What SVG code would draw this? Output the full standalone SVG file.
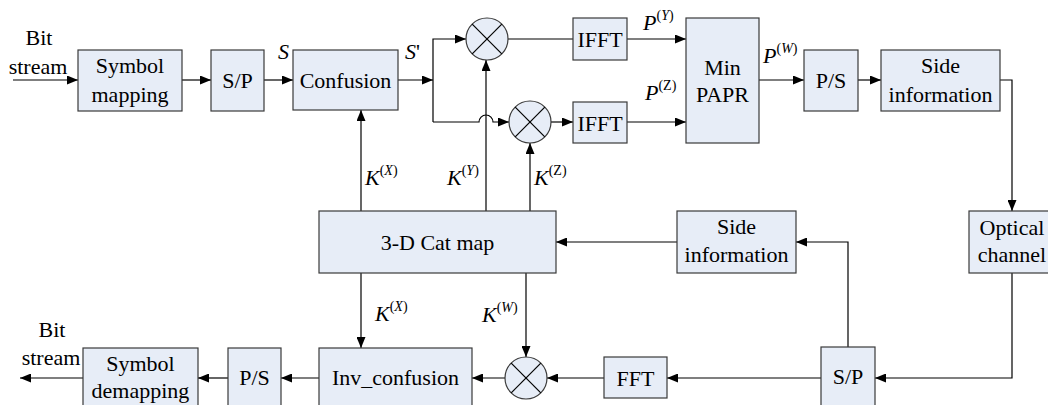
<svg xmlns="http://www.w3.org/2000/svg" width="1048" height="405" viewBox="0 0 1048 405" font-family="Liberation Serif" font-size="22">
<style>
.box{fill:#E7EDF7;stroke:#3a3a3a;stroke-width:1.2}
.t{fill:#000;text-anchor:middle}
.l{fill:#000}
.i{font-style:italic}
.sup{font-size:14px}
.c line,.c path{stroke:#000;stroke-width:1.2;fill:none}
.x line{stroke:#000;stroke-width:1.2}
</style>
<defs>
<marker id="a" markerUnits="userSpaceOnUse" markerWidth="11" markerHeight="9" refX="11" refY="4.5" orient="auto">
<path d="M0,0 L11,4.5 L0,9 z" fill="#000"/>
</marker>
</defs>
<g id="connectors" class="c">
<line x1="13" y1="80" x2="78" y2="80" marker-end="url(#a)"/>
<line x1="182" y1="80" x2="211" y2="80" marker-end="url(#a)"/>
<line x1="264" y1="80" x2="293" y2="80" marker-end="url(#a)"/>
<line x1="398" y1="80" x2="433" y2="80" marker-end="url(#a)"/>
<path d="M433,122 V39 H466" marker-end="url(#a)"/>
<path d="M433,122 H479 A7,7 0 0 1 493,122 H509" marker-end="url(#a)"/>
<line x1="508" y1="39" x2="573" y2="39"/>
<line x1="551" y1="122" x2="573" y2="122" marker-end="url(#a)"/>
<line x1="627" y1="39" x2="686" y2="39" marker-end="url(#a)"/>
<line x1="627" y1="122" x2="686" y2="122" marker-end="url(#a)"/>
<line x1="759" y1="80" x2="804" y2="80" marker-end="url(#a)"/>
<line x1="858" y1="80" x2="881" y2="80" marker-end="url(#a)"/>
<path d="M1000,80 H1012 V211" marker-end="url(#a)"/>
<path d="M1012,273 V378 H875" marker-end="url(#a)"/>
<path d="M848,347 V242 H796" marker-end="url(#a)"/>
<line x1="677" y1="242" x2="556" y2="242" marker-end="url(#a)"/>
<line x1="361" y1="211" x2="361" y2="110" marker-end="url(#a)"/>
<line x1="486" y1="211" x2="486" y2="60" marker-end="url(#a)"/>
<line x1="530" y1="211" x2="530" y2="143" marker-end="url(#a)"/>
<line x1="361" y1="273" x2="361" y2="348" marker-end="url(#a)"/>
<line x1="526" y1="273" x2="526" y2="357" marker-end="url(#a)"/>
<line x1="821" y1="378" x2="667" y2="378" marker-end="url(#a)"/>
<line x1="604" y1="378" x2="547" y2="378" marker-end="url(#a)"/>
<line x1="505" y1="378" x2="472" y2="378" marker-end="url(#a)"/>
<line x1="319" y1="378" x2="281" y2="378" marker-end="url(#a)"/>
<line x1="228" y1="378" x2="198" y2="378" marker-end="url(#a)"/>
<line x1="83" y1="378" x2="20" y2="378" marker-end="url(#a)"/>
</g>
<g id="labels">
<text class="t" x="39" y="45">Bit</text>
<text class="t" x="38" y="74">stream</text>
<text class="t" x="52" y="337">Bit</text>
<text class="t" x="51" y="365">stream</text>
<text class="l i" x="278" y="59">S</text>
<text class="l" x="405" y="59"><tspan class="i">S</tspan>'</text>
<text class="l" x="643" y="30"><tspan class="i">P</tspan><tspan class="sup" dy="-10">(<tspan class="i">Y</tspan>)</tspan></text>
<text class="l" x="645" y="100"><tspan class="i">P</tspan><tspan class="sup" dy="-10">(Z)</tspan></text>
<text class="l" x="763" y="63"><tspan class="i">P</tspan><tspan class="sup" dy="-10">(<tspan class="i">W</tspan>)</tspan></text>
<text class="l" x="365" y="185"><tspan class="i">K</tspan><tspan class="sup" dy="-10">(<tspan class="i">X</tspan>)</tspan></text>
<text class="l" x="447" y="185"><tspan class="i">K</tspan><tspan class="sup" dy="-10">(<tspan class="i">Y</tspan>)</tspan></text>
<text class="l" x="534" y="185"><tspan class="i">K</tspan><tspan class="sup" dy="-10">(Z)</tspan></text>
<text class="l" x="375" y="321"><tspan class="i">K</tspan><tspan class="sup" dy="-10">(<tspan class="i">X</tspan>)</tspan></text>
<text class="l" x="482" y="322"><tspan class="i">K</tspan><tspan class="sup" dy="-10">(<tspan class="i">W</tspan>)</tspan></text>
</g>
<g id="symbol-mapping"><rect class="box" x="78" y="50" width="104" height="61"/><text class="t" x="130" y="73">Symbol</text><text class="t" x="130" y="102">mapping</text></g>
<g id="sp-top"><rect class="box" x="211" y="50" width="53" height="61"/><text class="t" x="237.5" y="88">S/P</text></g>
<g id="confusion"><rect class="box" x="293" y="50" width="105" height="60"/><text class="t" x="345.5" y="88">Confusion</text></g>
<g id="mult-top" class="x"><circle class="box" cx="487" cy="39" r="21"/><line x1="472.2" y1="24.2" x2="501.8" y2="53.8"/><line x1="501.8" y1="24.2" x2="472.2" y2="53.8"/></g>
<g id="mult-mid" class="x"><circle class="box" cx="530" cy="122" r="21"/><line x1="515.2" y1="107.2" x2="544.8" y2="136.8"/><line x1="544.8" y1="107.2" x2="515.2" y2="136.8"/></g>
<g id="ifft-top"><rect class="box" x="573" y="18" width="54" height="42"/><text class="t" x="600" y="47">IFFT</text></g>
<g id="ifft-bottom"><rect class="box" x="573" y="102" width="54" height="41"/><text class="t" x="600" y="131">IFFT</text></g>
<g id="min-papr"><rect class="box" x="686" y="18" width="73" height="125"/><text class="t" x="722.5" y="75">Min</text><text class="t" x="722.5" y="102">PAPR</text></g>
<g id="ps-top"><rect class="box" x="804" y="50" width="54" height="61"/><text class="t" x="831" y="88">P/S</text></g>
<g id="side-info-top"><rect class="box" x="881" y="50" width="119" height="61"/><text class="t" x="940.5" y="73">Side</text><text class="t" x="940.5" y="102">information</text></g>
<g id="optical-channel"><rect class="box" x="969" y="211" width="86" height="62"/><text class="t" x="1012" y="235">Optical</text><text class="t" x="1012" y="262">channel</text></g>
<g id="side-info-bottom"><rect class="box" x="677" y="211" width="119" height="62"/><text class="t" x="736.5" y="234">Side</text><text class="t" x="736.5" y="262">information</text></g>
<g id="cat-map"><rect class="box" x="319" y="211" width="237" height="62"/><text class="t" x="437.5" y="250">3-D Cat map</text></g>
<g id="sp-bottom"><rect class="box" x="821" y="347" width="54" height="70"/><text class="t" x="848" y="384">S/P</text></g>
<g id="fft"><rect class="box" x="604" y="357" width="63" height="41"/><text class="t" x="635.5" y="386">FFT</text></g>
<g id="mult-bottom" class="x"><circle class="box" cx="526" cy="378" r="21"/><line x1="511.2" y1="363.2" x2="540.8" y2="392.8"/><line x1="540.8" y1="363.2" x2="511.2" y2="392.8"/></g>
<g id="inv-confusion"><rect class="box" x="319" y="348" width="153" height="70"/><text class="t" x="395.5" y="385">Inv_confusion</text></g>
<g id="ps-bottom"><rect class="box" x="228" y="348" width="53" height="70"/><text class="t" x="254.5" y="385">P/S</text></g>
<g id="symbol-demapping"><rect class="box" x="83" y="348" width="115" height="70"/><text class="t" x="140.5" y="371">Symbol</text><text class="t" x="140.5" y="398">demapping</text></g>
</svg>
